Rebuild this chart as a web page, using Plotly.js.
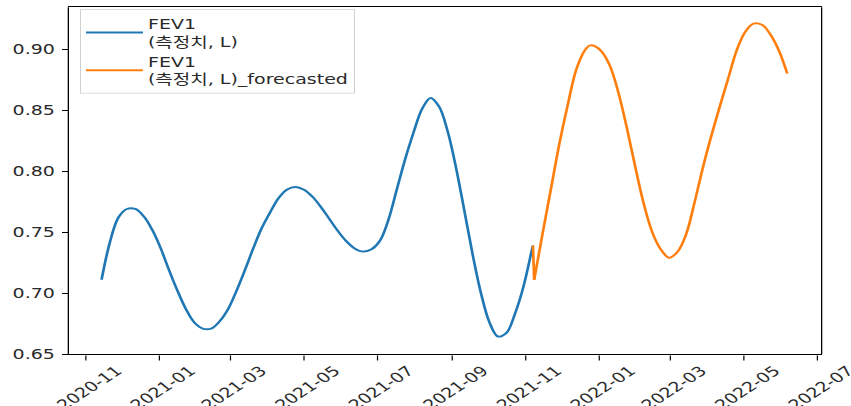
<!DOCTYPE html>
<html>
<head>
<meta charset="utf-8">
<script src="https://cdn.plot.ly/plotly-3.0.1.min.js"></script>
<style>
html,body{margin:0;padding:0;background:#fff;overflow:hidden;}
#wrap{width:851px;height:406px;overflow:hidden;}
#chart{width:851px;height:564px;transform:scaleY(0.71986);transform-origin:0 0;}
</style>
</head>
<body>
<div id="wrap"><div id="chart"></div></div>
<script>
// Measured FEV1 series (weekly readings)
const actualDates = [
  '2020-11-14','2020-11-21','2020-11-28','2020-12-05','2020-12-12','2020-12-19','2020-12-26',
  '2021-01-02','2021-01-09','2021-01-16','2021-01-23','2021-01-30','2021-02-06','2021-02-13',
  '2021-02-20','2021-02-27','2021-03-06','2021-03-13','2021-03-20','2021-03-27','2021-04-03',
  '2021-04-10','2021-04-17','2021-04-24','2021-05-01','2021-05-08','2021-05-15','2021-05-22',
  '2021-05-29','2021-06-05','2021-06-12','2021-06-19','2021-06-26','2021-07-03','2021-07-10',
  '2021-07-17','2021-07-24','2021-07-31','2021-08-07','2021-08-14','2021-08-21','2021-08-28',
  '2021-09-04','2021-09-11','2021-09-18','2021-09-25','2021-10-02','2021-10-09','2021-10-16',
  '2021-10-23','2021-10-30','2021-11-06','2021-11-07'
];
const actualValues = [
  0.711, 0.742, 0.762, 0.769, 0.769, 0.763, 0.752,
  0.737, 0.719, 0.702, 0.687, 0.676, 0.671, 0.671,
  0.677, 0.687, 0.702, 0.719, 0.737, 0.7535, 0.7665,
  0.778, 0.785, 0.787, 0.7847, 0.779, 0.7707, 0.7609,
  0.7511, 0.7427, 0.7367, 0.7341, 0.736, 0.743, 0.760,
  0.785, 0.810, 0.832, 0.851, 0.860, 0.8531, 0.8334,
  0.8036, 0.7679, 0.7314, 0.6994, 0.6758, 0.6645, 0.6675,
  0.683, 0.705, 0.735, 0.739
];
// Forecasted series (first point joins the last measured point)
const forecastDates = [
  '2021-11-07','2021-11-08','2021-11-15','2021-11-22','2021-11-29','2021-12-06','2021-12-13',
  '2021-12-20','2021-12-24','2021-12-27','2022-01-03','2022-01-10','2022-01-17','2022-01-24',
  '2022-01-31','2022-02-07','2022-02-14','2022-02-21','2022-02-28','2022-03-07','2022-03-14',
  '2022-03-21','2022-03-28','2022-04-04','2022-04-11','2022-04-18','2022-04-25','2022-05-02',
  '2022-05-09','2022-05-16','2022-05-23','2022-05-30','2022-06-06'
];
const forecastValues = [
  0.739, 0.711, 0.749, 0.786, 0.823, 0.855, 0.8835,
  0.899, 0.903, 0.903, 0.898, 0.886, 0.864, 0.835,
  0.803, 0.773, 0.750, 0.736, 0.729, 0.734, 0.748,
  0.774, 0.803, 0.829, 0.853, 0.876, 0.899, 0.914,
  0.921, 0.920, 0.912, 0.899, 0.880
];
const yTickVals = [0.65, 0.70, 0.75, 0.80, 0.85, 0.90];
const seriesNames = ['FEV1<br>(측정치, L)', 'FEV1<br>(측정치, L)_forecasted'];

const blue = '#1f77b4', orange = '#ff7f0e';
const traces = [
  {x: actualDates, y: actualValues, type: 'scatter', mode: 'lines', name: seriesNames[0],
   line: {color: blue, width: 2.7, shape: 'spline', smoothing: 1}},
  {x: forecastDates.slice(1), y: forecastValues.slice(1), type: 'scatter', mode: 'lines', name: seriesNames[1],
   legendgroup: 'fc', line: {color: orange, width: 2.7, shape: 'spline', smoothing: 1}},
  {x: forecastDates.slice(0, 2), y: forecastValues.slice(0, 2), type: 'scatter', mode: 'lines',
   legendgroup: 'fc', showlegend: false, hoverinfo: 'skip', line: {color: orange, width: 2.7}}
];

const tickFont = {family: 'DejaVu Sans, sans-serif', size: 19, color: '#2a2a2a'};
const layout = {
  width: 851, height: 564,
  margin: {l: 69, r: 30, t: 10, b: 72},
  paper_bgcolor: '#fff', plot_bgcolor: '#fff',
  showlegend: true,
  legend: {
    x: 0.0146, y: 0.994, xanchor: 'left', yanchor: 'top',
    bgcolor: 'rgba(255,255,255,0.8)', bordercolor: '#d0d0d0', borderwidth: 1,
    font: {family: 'DejaVu Sans, Noto Sans CJK KR, sans-serif', size: 19, color: '#2a2a2a'},
    tracegroupgap: 0, itemwidth: 57
  },
  xaxis: {
    type: 'date', range: ['2020-10-18', '2022-07-04'],
    tick0: '2020-11-01', dtick: 'M2', tickformat: '%Y-%m',
    tickangle: -42, ticks: 'outside', ticklen: 7, tickwidth: 1.2, tickcolor: '#000',
    ticklabelshift: 31, ticklabelstandoff: -4, ticklabeloverflow: 'allow',
    showgrid: false, zeroline: false, showline: true, linecolor: '#000', linewidth: 1.8, mirror: true,
    tickfont: tickFont
  },
  yaxis: {
    range: [0.65, 0.9344], tickvals: yTickVals, tickformat: '.2f',
    ticks: 'outside', ticklen: 6, tickwidth: 1.6, tickcolor: '#000', ticklabelstandoff: 3,
    showgrid: false, zeroline: false, showline: true, linecolor: '#000', linewidth: 1.3, mirror: true,
    tickfont: tickFont
  }
};
Plotly.newPlot('chart', traces, layout, {displayModeBar: false, staticPlot: true});
</script>
</body>
</html>
